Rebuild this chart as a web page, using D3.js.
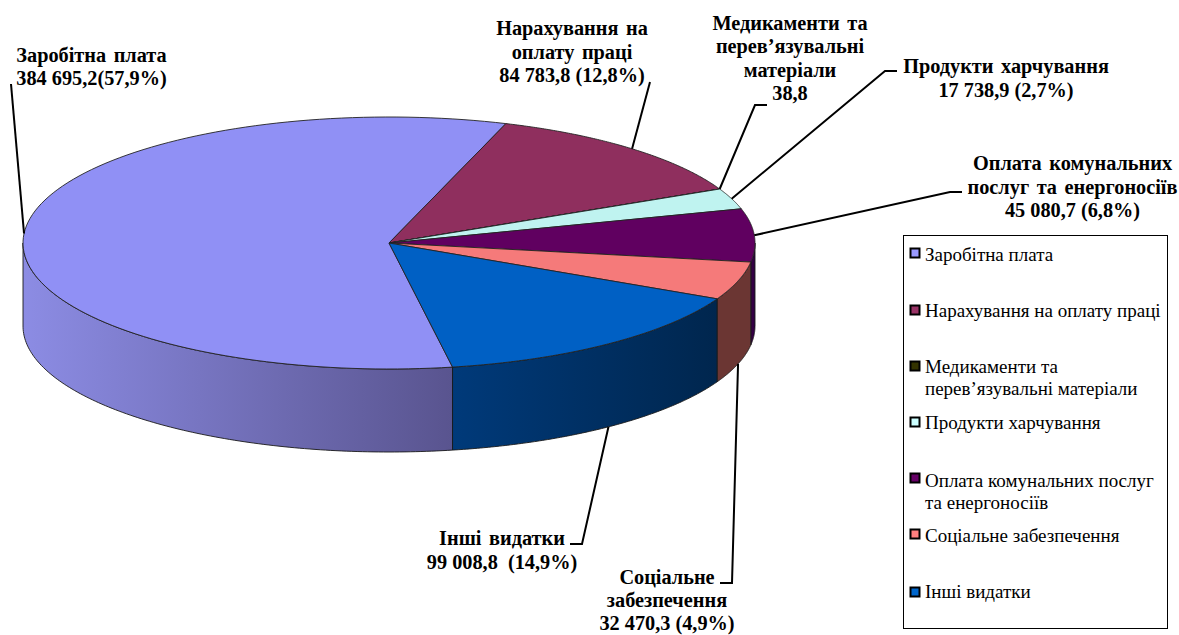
<!DOCTYPE html>
<html><head><meta charset="utf-8">
<script src="https://cdn.jsdelivr.net/npm/d3@7"></script>
<style>
html,body{margin:0;padding:0;background:#fff}
svg{display:block}
text{font-family:"Liberation Serif",serif;fill:#000}
.lab{font-weight:bold;font-size:20.3px;text-anchor:middle}
.leg{font-size:19px}
</style></head><body>
<svg id="c" width="1179" height="635"></svg>
<script>
// data
const categories = ["Заробітна плата","Нарахування на оплату праці","Медикаменти та перев’язувальні матеріали","Продукти харчування","Оплата комунальних послуг та енергоносіїв","Соціальне забезпечення","Інші видатки"];
const values = [384695.2, 84783.8, 38.8, 17738.9, 45080.7, 32470.3, 99008.8];
const legendColors = ["#9999ff","#993366","#333300","#ccffff","#660066","#ff8080","#0066cc"];
const topColors = ["#9090f5","#8f2f5e","#303000","#bff3f0","#600060","#f57a7a","#0060c4"];
const wallFrom = ["#8c8ce4","#6b2a4a","#262600","#8fb5b3","#3c0048","#6b3633","#003a7a"];
const wallTo = ["#59548f","#6b2a4a","#262600","#8fb5b3","#2c0040","#6b3633","#00264e"];
const labelLines = [
 ["Заробітна плата","384 695,2(57,9%)"],
 ["Нарахування на","оплату праці","84 783,8 (12,8%)"],
 ["Медикаменти та","перев’язувальні","матеріали","38,8"],
 ["Продукти харчування","17 738,9 (2,7%)"],
 ["Оплата комунальних","послуг та енергоносіїв","45 080,7 (6,8%)"],
 ["Соціальне","забезпечення","32 470,3 (4,9%)"],
 ["Інші видатки","99 008,8  (14,9%)"]
];
const legendLines = [
 ["Заробітна плата"],["Нарахування на оплату праці"],["Медикаменти та","перев’язувальні матеріали"],
 ["Продукти харчування"],["Оплата комунальних послуг","та енергоносіїв"],["Соціальне забезпечення"],["Інші видатки"]
];

// layout
const cx=389, cy=243, rx=366, ry=126, depth=83;
const startDeg=170;
const labelPos=[ // centre x, first baseline, line height
 {x:91.5,y:62,lh:23},{x:572,y:35,lh:23.5},{x:790,y:30,lh:23.4},{x:1006,y:73,lh:24},{x:1072.5,y:170,lh:23.5},{x:667,y:584,lh:23},{x:502,y:545,lh:23.5}];
const leaderTail=[ // outer end of each leader, from label inwards
 [[11,84]],[[650,82]],[[767,105],[755,105]],[[897,71],[885,71]],[[962,192],[950,192]],[[720,583],[732,583]],[[570,544],[582,544]]];
const leaderOnWall=[false,false,false,false,false,true,true];
const legendTextY=[261,317,373,429,487,542,598];
const legendSwatchY=[253,310,366,422,478,534,592];

const svg=d3.select("#c");
const defs=svg.append("defs");
const pie=d3.pie().sort(null).value(d=>d).startAngle(startDeg*Math.PI/180).endAngle((startDeg+360)*Math.PI/180);
const arcs=pie(values);
const X=d3.scaleLinear().domain([-1,1]).range([cx-rx,cx+rx]);
const Y=d3.scaleLinear().domain([-1,1]).range([cy-ry,cy+ry]);
const pt=(a,dz=0)=>[X(Math.sin(a)),Y(-Math.cos(a))+dz];
const sampled=(a0,a1,dz)=>d3.range(0,121).map(i=>pt(a0+(a1-a0)*i/120,dz));
const line=d3.line();

// walls: visible only on the front half of the ellipse (90..270 deg)
const A90=Math.PI/2, A270=3*Math.PI/2;
function clipFront(a0,a1){
  const segs=[];
  for(const k of [0,2*Math.PI]){
    const s=Math.max(a0,A90+k), e=Math.min(a1,A270+k);
    if(e>s) segs.push([s,e]);
  }
  return segs;
}
const wallG=svg.append("g");
arcs.forEach((d,i)=>{
  clipFront(d.startAngle,d.endAngle).forEach((s,j)=>{
    const top=sampled(s[0],s[1],0), bot=sampled(s[1],s[0],depth);
    const xa=d3.extent(top,p=>p[0]);
    const id="w"+i+"_"+j;
    const g=defs.append("linearGradient").attr("id",id).attr("gradientUnits","userSpaceOnUse")
      .attr("x1",xa[0]).attr("x2",xa[1]).attr("y1",0).attr("y2",0);
    g.append("stop").attr("offset",0).attr("stop-color",wallFrom[i]);
    g.append("stop").attr("offset",1).attr("stop-color",wallTo[i]);
    wallG.append("path").attr("d",line(top.concat(bot))+"Z")
      .attr("fill","url(#"+id+")").attr("stroke","#1a1a1a").attr("stroke-width",0.9).attr("stroke-linejoin","round");
  });
});

// top faces
const topG=svg.append("g");
arcs.forEach((d,i)=>{
  const p=[[cx,cy]].concat(sampled(d.startAngle,d.endAngle,0));
  topG.append("path").attr("d",line(p)+"Z").attr("fill",topColors[i])
    .attr("stroke","#222").attr("stroke-width",0.9).attr("stroke-linejoin","round");
});

// leaders
const leaderG=svg.append("g");
arcs.forEach((d,i)=>{
  const mid=(d.startAngle+d.endAngle)/2;
  const a=pt(mid,leaderOnWall[i]?depth:0);
  leaderG.append("path").attr("d",line(leaderTail[i].concat([a])))
    .attr("fill","none").attr("stroke","#000").attr("stroke-width",2);
});

// data labels
labelLines.forEach((ls,i)=>{
  const t=svg.append("text").attr("class","lab");
  ls.forEach((s,k)=>t.append("tspan").attr("x",labelPos[i].x).attr("y",labelPos[i].y+k*labelPos[i].lh)
    .attr("word-spacing",/^[0-9]/.test(s)?0:2.5).style("white-space","pre").text(s));
});

// legend
svg.append("rect").attr("x",903.5).attr("y",235.5).attr("width",264).attr("height",393)
  .attr("fill","#fff").attr("stroke","#000").attr("stroke-width",1);
legendLines.forEach((ls,i)=>{
  svg.append("rect").attr("x",910.5).attr("y",legendSwatchY[i]-4.5).attr("width",9).attr("height",9)
    .attr("fill",legendColors[i]).attr("stroke","#000").attr("stroke-width",2);
  const t=svg.append("text").attr("class","leg");
  ls.forEach((s,k)=>t.append("tspan").attr("x",925).attr("y",legendTextY[i]+k*22).text(s));
});
</script></body></html>
